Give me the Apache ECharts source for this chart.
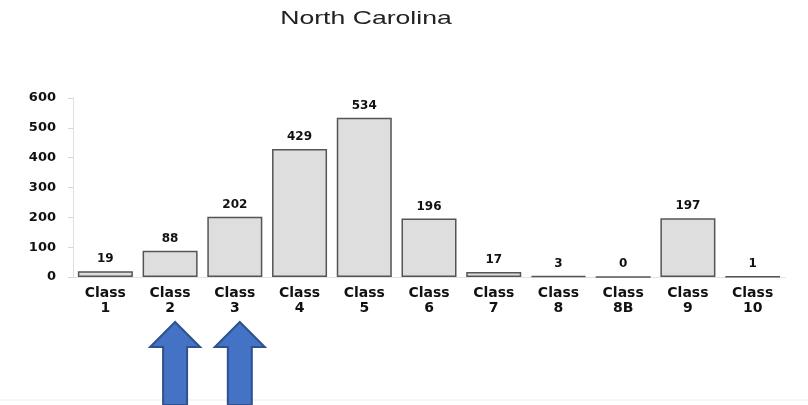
<!DOCTYPE html>
<html lang="en">
    <head>
        <meta charset="UTF-8">
        <title>North Carolina</title>
        <script src="https://cdn.jsdelivr.net/npm/echarts@6/dist/echarts.min.js"></script>
        <style>
            html, body { margin: 0; padding: 0; background: #fff; }
            #main { width: 808px; height: 405px; }
        </style>
    </head>
    <body>
        <div id="main"></div>
        <script>
            // data
            var categories = ['Class\n1', 'Class\n2', 'Class\n3', 'Class\n4', 'Class\n5', 'Class\n6',
                              'Class\n7', 'Class\n8', 'Class\n8B', 'Class\n9', 'Class\n10'];
            var counts = [19, 88, 202, 429, 534, 196, 17, 3, 0, 197, 1];
            var yTicks = [0, 100, 200, 300, 400, 500, 600];
            var titleText = 'North Carolina';
            // categories that get an arrow underneath
            var arrowAt = [1, 2];

            var chart = echarts.init(document.getElementById('main'), null, { renderer: 'canvas' });

            var wide = '"DejaVu Sans", Verdana, sans-serif';

            chart.setOption({
                animation: false,
                grid: { left: 73, right: 23, top: 98, bottom: 128 },
                xAxis: {
                    type: 'category',
                    data: categories,
                    axisLine: { lineStyle: { color: '#e2e2e2' } },
                    axisTick: { show: false },
                    axisLabel: {
                        interval: 0,
                        margin: 9,
                        lineHeight: 15,
                        color: '#111',
                        fontFamily: wide,
                        fontWeight: 'bold',
                        fontSize: 14
                    }
                },
                yAxis: {
                    type: 'value',
                    min: yTicks[0],
                    max: yTicks[yTicks.length - 1],
                    interval: 100,
                    splitLine: { show: false },
                    axisLine: { show: true, lineStyle: { color: '#e0e0e0' } },
                    axisTick: { show: true, length: 5, lineStyle: { color: '#d6d6d6' } },
                    axisLabel: {
                        margin: 17,
                        color: '#111',
                        fontFamily: wide,
                        fontWeight: 'bold',
                        fontSize: 13
                    }
                },
                series: [{
                    type: 'bar',
                    data: counts,
                    barCategoryGap: '15%',
                    itemStyle: { color: '#dedede', borderColor: '#555', borderWidth: 1.5 },
                    label: {
                        show: true,
                        position: 'top',
                        distance: 6,
                        color: '#111',
                        fontFamily: wide,
                        fontWeight: 'bold',
                        fontSize: 12
                    }
                }]
            });

            // blue up-arrows under selected categories
            function arrowShape(cx) {
                var top = 322, headBase = 347, bottom = 405;
                return [[cx, top], [cx + 25, headBase], [cx + 12, headBase], [cx + 12, bottom],
                        [cx - 12, bottom], [cx - 12, headBase], [cx - 25, headBase]];
            }
            var graphics = arrowAt.map(function (idx) {
                var cx = chart.convertToPixel({ xAxisIndex: 0 }, categories[idx]) + 5;
                return {
                    type: 'polygon',
                    shape: { points: arrowShape(cx) },
                    style: { fill: '#4472c4', stroke: '#2f528f', lineWidth: 2 }
                };
            });
            // the title in the scan is stretched sideways
            graphics.push({
                type: 'text',
                x: 366,
                y: 19,
                scaleX: 1.4,
                style: {
                    text: titleText,
                    fill: '#222',
                    font: '19px Arial, "Liberation Sans", sans-serif',
                    textAlign: 'center',
                    textVerticalAlign: 'middle'
                }
            });
            graphics.push({
                type: 'line',
                shape: { x1: 0, y1: 400, x2: 808, y2: 400 },
                style: { stroke: '#ececec', lineWidth: 1 },
                z: -1
            });
            chart.setOption({ graphic: graphics });
        </script>
    </body>
</html>
